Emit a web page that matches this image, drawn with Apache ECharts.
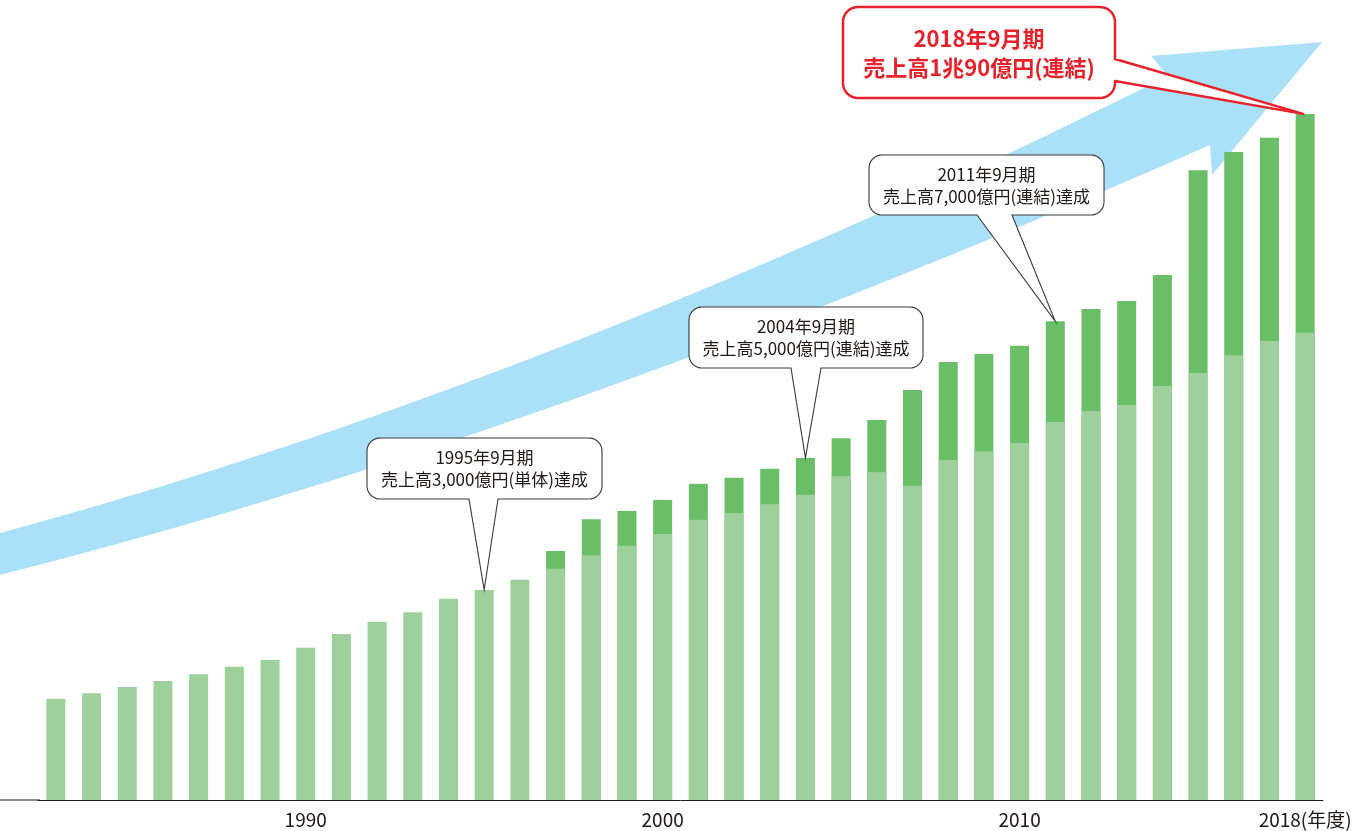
<!DOCTYPE html>
<html><head><meta charset="utf-8">
<script src="https://cdn.jsdelivr.net/npm/echarts@6/dist/echarts.min.js"></script>
<style>html,body{margin:0;padding:0;background:#fff}#c{width:1356px;height:831px}</style>
</head><body><div id="c"></div>
<script>
// ---- data (億円) ----
const years = ['1983','1984','1985','1986','1987','1988','1989','1990','1991','1992','1993','1994',
  '1995','1996','1997','1998','1999','2000','2001','2002','2003','2004','2005','2006','2007','2008',
  '2009','2010','2011','2012','2013','2014','2015','2016','2017','2018'];
// 単体 standalone sales
const standalone = [1490,1570,1660,1750,1850,1960,2060,2240,2440,2620,2760,2960,
  3090,3240,3400,3600,3740,3910,4120,4220,4350,4490,4760,4820,4620,5000,
  5130,5250,5560,5720,5810,6090,6280,6540,6750,6870];
// 連結 consolidated sales
const consolidated = [null,null,null,null,null,null,null,null,null,null,null,null,
  null,null,3660,4130,4250,4410,4650,4740,4870,5030,5320,5590,6030,6440,
  6560,6680,7040,7220,7340,7720,9260,9530,9740,10090];
const tickLabels = ['1990','2000','2010','2018'];
const unitSuffix = '(年度)';
const noteYears = ['1995','2004','2011'];
const noteTexts = [
  ['1995年9月期','売上高3,000億円(単体)達成'],
  ['2004年9月期','売上高5,000億円(連結)達成'],
  ['2011年9月期','売上高7,000億円(連結)達成']
];
const highlightYear = '2018';
const highlightText = ['2018年9月期','売上高1兆90億円(連結)'];

const FONT = '"Noto Sans CJK JP","Noto Sans",sans-serif';
const LIGHT = '#9dd09b', DARK = '#6abe68', BLUE = '#aae0f8', RED = '#e8222a', INK = '#231815';

const chart = echarts.init(document.getElementById('c'), null, {renderer:'canvas'});
chart.setOption({
  animation:false,
  grid:{left:38,right:33,top:52,bottom:31},
  xAxis:{type:'category',data:years,
    axisTick:{show:false},
    axisLine:{show:true,lineStyle:{color:INK,width:1}},
    axisLabel:{
      interval:function(i,v){return tickLabels.indexOf(v)>=0;},
      formatter:function(v){return v===tickLabels[tickLabels.length-1]? v+unitSuffix : v;},
      color:INK,fontSize:19,fontFamily:FONT,margin:10
    }},
  yAxis:{type:'value',min:0,max:11000,show:false,splitLine:{show:false}},
  series:[
    {name:'連結',type:'bar',data:consolidated,barWidth:19,itemStyle:{color:DARK},z:3},
    {name:'単体',type:'bar',data:standalone,barWidth:19,barGap:'-100%',itemStyle:{color:LIGHT},z:4}
  ]
});

// ---- decoration helpers (shapes as sampled polygons) ----
function arc(pts,cx,cy,r,a0,a1){
  const n=10;
  for(let i=0;i<=n;i++){const a=(a0+(a1-a0)*i/n)*Math.PI/180;pts.push([cx+r*Math.cos(a),cy+r*Math.sin(a)]);}
}
function callout(x,y,w,h,r,ptr){
  const R=x+w,B=y+h,pts=[];
  pts.push([x+r,y]);pts.push([R-r,y]);
  arc(pts,R-r,y+r,r,-90,0);
  if(ptr.side==='right'){pts.push([R,ptr.a]);pts.push([ptr.tx,ptr.ty]);pts.push([R,ptr.b]);}
  arc(pts,R-r,B-r,r,0,90);
  if(ptr.side==='bottom'){pts.push([ptr.b,B]);pts.push([ptr.tx,ptr.ty]);pts.push([ptr.a,B]);}
  arc(pts,x+r,B-r,r,90,180);
  arc(pts,x+r,y+r,r,180,270);
  return pts;
}
function quad(pts,p0,p1,p2){
  const n=60;
  for(let i=0;i<=n;i++){const t=i/n,u=1-t;
    pts.push([u*u*p0[0]+2*u*t*p1[0]+t*t*p2[0],u*u*p0[1]+2*u*t*p1[1]+t*t*p2[1]]);}
}
function topOf(year){
  const i=years.indexOf(year);
  const v=consolidated[i]!=null?consolidated[i]:standalone[i];
  return chart.convertToPixel({xAxisIndex:0,yAxisIndex:0},[i,v]);
}
function txt(x,y,s,size,color,weight){
  return {type:'text',x:x,y:y,z:20,style:{text:s,fill:color,
    font:(weight||'normal')+' '+size+'px '+FONT,
    align:'center',verticalAlign:'middle',textAlign:'center',textVerticalAlign:'middle'}};
}

const boxes=[
  {x:367,y:438,w:235,h:61,a:469,b:498},
  {x:689,y:307,w:234,h:61,a:791,b:821},
  {x:869,y:155,w:235,h:60,a:977,b:1012}
];
const g=[];
const base=chart.convertToPixel({xAxisIndex:0,yAxisIndex:0},[0,0]);
g.push({type:'line',z:1,shape:{x1:0,y1:base[1],x2:40,y2:base[1]},style:{stroke:INK,lineWidth:1}});
// decorative growth arrow
const arrow=[];
quad(arrow,[-10,535.7],[547,386],[1168,76]);
arrow.push([1151,56]);arrow.push([1322,42]);arrow.push([1212,175]);arrow.push([1210,145]);
quad(arrow,[1210,145],[542,439],[-10,577.5]);
g.push({type:'polygon',z:0,shape:{points:arrow},style:{fill:BLUE}});
noteYears.forEach(function(yr,n){
  const b=boxes[n], p=topOf(yr);
  g.push({type:'polygon',z:15,shape:{points:callout(b.x,b.y,b.w,b.h,13,{side:'bottom',a:b.a,b:b.b,tx:p[0],ty:p[1]})},
    style:{fill:'#fff',stroke:'#3a3a3a',lineWidth:1.1}});
  g.push(txt(b.x+b.w/2,b.y+20,noteTexts[n][0],17,INK));
  g.push(txt(b.x+b.w/2,b.y+42,noteTexts[n][1],17,INK));
});
(function(){
  const p=topOf(highlightYear);
  const b={x:843,y:7,w:272,h:91};
  g.push({type:'polygon',z:16,shape:{points:callout(b.x,b.y,b.w,b.h,15,{side:'right',a:59,b:81,tx:p[0]-2,ty:p[1]})},
    style:{fill:'#fff',stroke:RED,lineWidth:2.5,lineJoin:'round'}});
  g.push(txt(b.x+b.w/2,b.y+32,highlightText[0],22,RED,'bold'));
  g.push(txt(b.x+b.w/2,b.y+61,highlightText[1],22,RED,'bold'));
})();
chart.setOption({graphic:g});
</script></body></html>
